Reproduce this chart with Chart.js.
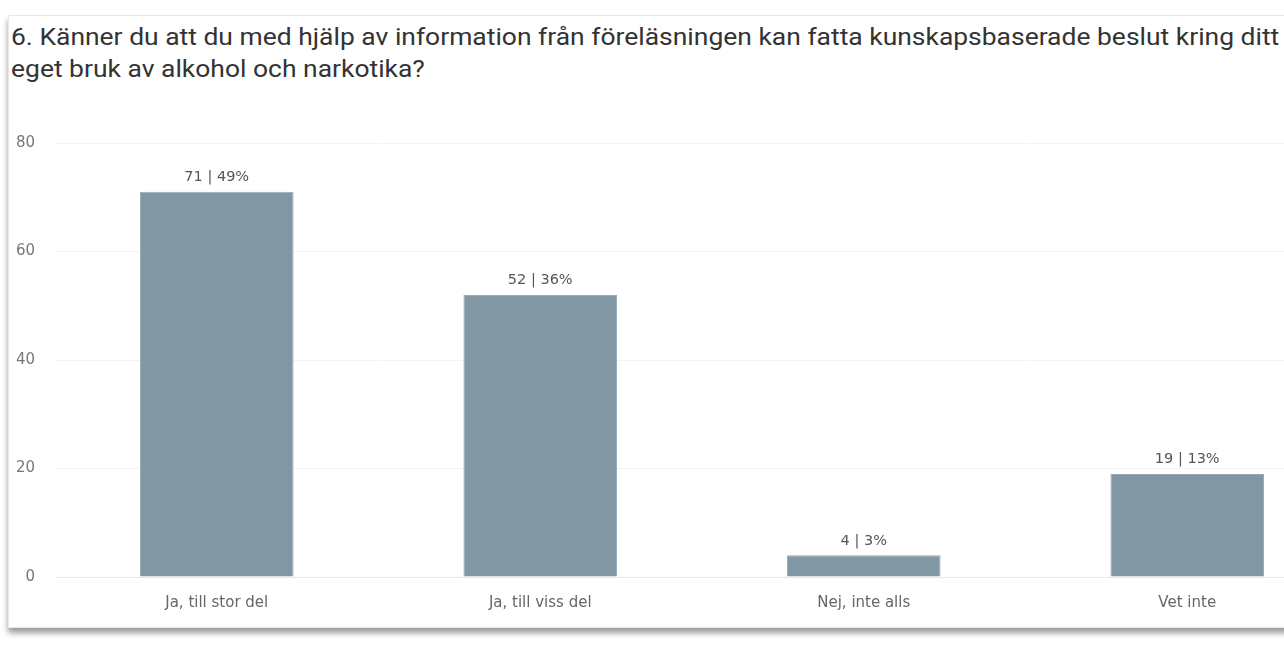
<!DOCTYPE html>
<html>
<head>
<meta charset="utf-8">
<script src="https://cdn.jsdelivr.net/npm/chart.js@4"></script>
<style>
  html, body { margin: 0; padding: 0; background: #fff; overflow: hidden; width: 1284px; height: 660px; }
  .card {
    position: absolute; left: 8px; top: 15px; width: 1360px; height: 611px;
    background: #fff; border: 1px solid #e4e8e8;
    box-shadow: 0 5px 6px rgba(0, 0, 0, 0.4);
  }
  .title {
    position: absolute; left: 2px; top: 5px; white-space: nowrap;
    font-family: Roboto, sans-serif; font-size: 24px; line-height: 32px; color: #333;
    transform: scaleX(1.102); transform-origin: 0 0;
  }
  .chart-box { position: absolute; left: 0; top: 85px; width: 1360px; height: 520px; }
</style>
</head>
<body>
<div class="card">
  <div class="title">6. Känner du att du med hjälp av information från föreläsningen kan fatta kunskapsbaserade beslut kring ditt<br>eget bruk av alkohol och narkotika?</div>
  <div class="chart-box"><canvas id="answersChart"></canvas></div>
</div>
<script>
const categories = ['Ja, till stor del', 'Ja, till viss del', 'Nej, inte alls', 'Vet inte'];
const answers = [71, 52, 4, 19];
const percents = [49, 36, 3, 13];
const yTicks = [0, 20, 40, 60, 80];

const labelFont = '"DejaVu Sans", sans-serif';

// draws "71 | 49%" above each bar
const barLabels = {
    id: 'barLabels',
    afterDatasetsDraw(chart) {
        const ctx = chart.ctx;
        const meta = chart.getDatasetMeta(0);
        ctx.save();
        ctx.font = '14.5px ' + labelFont;
        ctx.fillStyle = '#555';
        ctx.textAlign = 'center';
        ctx.textBaseline = 'bottom';
        meta.data.forEach((bar, i) => {
            ctx.fillText(answers[i] + ' | ' + percents[i] + '%', bar.x, bar.y - 7);
        });
        ctx.restore();
    }
};

new Chart(document.getElementById('answersChart'), {
    type: 'bar',
    data: {
        labels: categories,
        datasets: [
            {
                data: answers,
                backgroundColor: '#8197a3',
                borderColor: '#97a9b5',
                borderWidth: 1,
                categoryPercentage: 1,
                barPercentage: 0.475
            }
        ]
    },
    options: {
        responsive: true,
        maintainAspectRatio: false,
        animation: false,
        layout: { padding: { top: 42, right: 20, left: 0, bottom: 0 } },
        plugins: { legend: { display: false }, tooltip: { enabled: false } },
        scales: {
            x: {
                grid: { display: false },
                border: { display: true, color: '#e3e8f5', width: 1 },
                ticks: { color: '#666', font: { family: labelFont, size: 15 }, padding: 9 },
                afterFit: scale => { scale.height = 44; }
            },
            y: {
                beginAtZero: true,
                min: 0,
                max: 80,
                afterBuildTicks: scale => { scale.ticks = yTicks.map(v => ({ value: v })); },
                ticks: { color: '#777', font: { family: labelFont, size: 15 }, padding: 20 },
                grid: { color: '#f3f3f3', drawTicks: false },
                border: { display: false },
                afterFit: scale => { scale.width = 46; }
            }
        }
    },
    plugins: [barLabels]
});
</script>
</body>
</html>
